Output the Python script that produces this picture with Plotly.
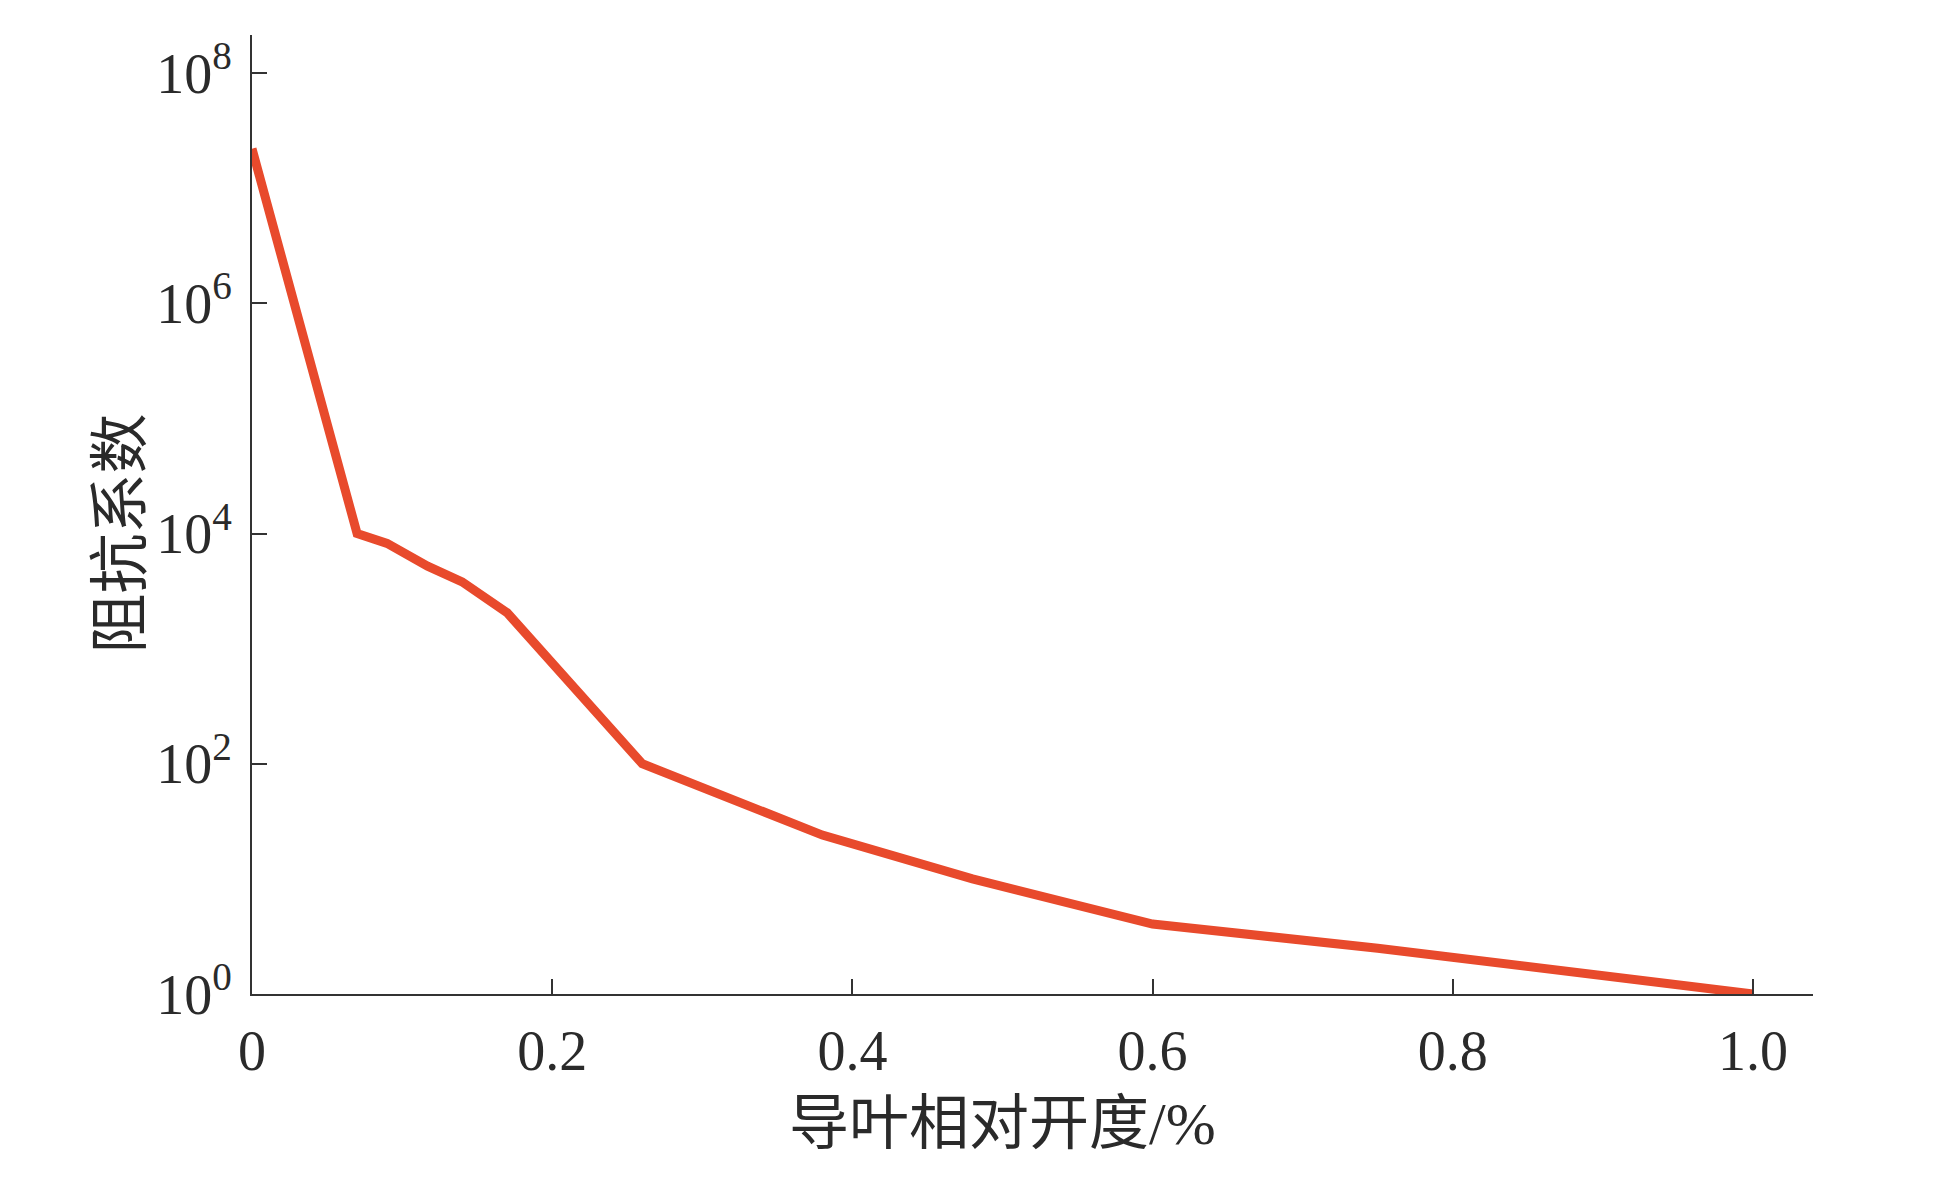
import plotly.graph_objects as go

# guide vane relative opening vs resistance coefficient
opening = [0.0, 0.07, 0.09, 0.117, 0.14, 0.17, 0.26, 0.38, 0.48, 0.60, 0.75, 1.0]
resistance = [2.2e7, 1.0e4, 8.2e3, 5.2e3, 3.8e3, 2.05e3, 100, 24, 10, 4.05, 2.5, 1.0]

x_ticks = [0, 0.2, 0.4, 0.6, 0.8, 1.0]
x_tick_text = ["0", "0.2", "0.4", "0.6", "0.8", "1.0"]
y_ticks = [1, 1e2, 1e4, 1e6, 1e8]
y_tick_text = ["10<sup>0</sup>", "10<sup>2</sup>", "10<sup>4</sup>", "10<sup>6</sup>", "10<sup>8</sup>"]

axis_color = "#333333"
text_color = "#2a2a2a"
line_color = "#E84A2C"
font_family = "Liberation Serif, 'Noto Sans CJK SC', serif"

fig = go.Figure()

fig.add_trace(go.Scatter(
    x=opening,
    y=resistance,
    mode="lines",
    line=dict(color=line_color, width=9),
    showlegend=False,
))

# the page puts the figure 8px in from the top-left corner
mar_l, mar_r, mar_t, mar_b = 244, 132, 27, 195
W, H = 1937, 1181
w_plot = W - mar_l - mar_r
h_plot = H - mar_t - mar_b

fig.update_layout(
    width=W,
    height=H,
    margin=dict(l=mar_l, r=mar_r, t=mar_t, b=mar_b),
    plot_bgcolor="white",
    paper_bgcolor="white",
    font=dict(family=font_family, size=56, color=text_color),
    xaxis=dict(
        range=[0, 1.04],
        tickvals=x_ticks,
        ticktext=x_tick_text,
        ticks="inside",
        ticklen=15,
        tickwidth=2,
        tickcolor=axis_color,
        showline=True,
        linecolor=axis_color,
        linewidth=2,
        showgrid=False,
        zeroline=False,
        ticklabelstandoff=7,
    ),
    yaxis=dict(
        type="log",
        range=[0, 8.33],
        tickvals=y_ticks,
        ticktext=y_tick_text,
        ticks="inside",
        ticklen=15,
        tickwidth=2,
        tickcolor=axis_color,
        showline=True,
        linecolor=axis_color,
        linewidth=2,
        showgrid=False,
        zeroline=False,
        ticklabelstandoff=7,
    ),
    annotations=[
        dict(
            text="导叶相对开度/%",
            x=0.5, xref="x",
            y=-130 / h_plot, yref="paper",
            xanchor="center", yanchor="middle",
            showarrow=False,
            font=dict(size=60, color=text_color),
        ),
        dict(
            text="阻抗系数",
            x=-132 / w_plot, xref="paper",
            y=4, yref="y",
            xanchor="center", yanchor="middle",
            textangle=-90,
            showarrow=False,
            font=dict(size=60, color=text_color),
        ),
    ],
)

fig.write_html("out.html")
